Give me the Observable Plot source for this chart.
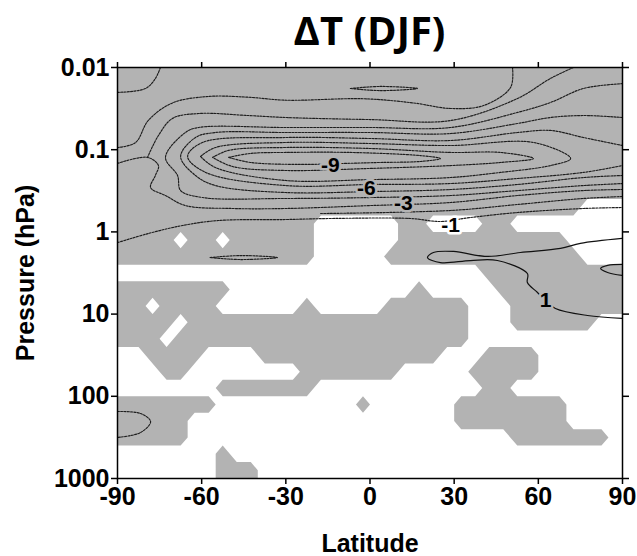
<!DOCTYPE html>
<html><head><meta charset="utf-8">
<script src="https://cdn.jsdelivr.net/npm/d3@7"></script>
<script src="https://cdn.jsdelivr.net/npm/@observablehq/plot@0.6"></script>
<style>
body{margin:0;background:#fff;}
#wrap{position:relative;width:637px;height:556px;overflow:hidden;}
#title{position:absolute;left:117px;width:505px;top:5px;text-align:center;font-family:"Open Sans",sans-serif;font-weight:700;font-size:40px;line-height:50px;color:#000;}
</style></head><body>
<div id="wrap"><div id="chart"></div><div id="title">ΔT (DJF)</div></div>
<script>
// axis ticks
const latTicks = [-90, -60, -30, 0, 30, 60, 90];
const pTicks = [0.01, 0.1, 1, 10, 100, 1000];

// significance mask: 36 latitude bands (5 deg, -90..90) x 25 log-pressure bands (0.2 decade, 0.01 hPa at top)
const sigMask = [
"####################################",
"####################################",
"####################################",
"####################################",
"####################################",
"####################################",
"####################################",
"####################################",
"#################################...",
"##############......##....##........",
"####.##.######......############....",
"##############.....##############...",
"..........................##########",
"########.............#.....#########",
"##.####......#.....######...########",
"####.####################...######..",
"###.#####################...........",
"..####....#############...####......",
"...##........#######.....#####......",
".......#######............##........",
"#######..........#......########....",
"#####...................########....",
"#####.......................#######.",
".......#............................",
".......###.........................."
];

// contour lines as [latitude, pressure hPa]
const cornerNW = [[-74.7,0.01],[-76.5,0.0136],[-80,0.018],[-90,0.0201]];
const lineY = [[-90,0.094],[-83.6,0.082],[-79,0.044],[-70.4,0.027],[-57.6,0.0225],[-43.3,0.023],[-30,0.025],[-2.3,0.024],[15.5,0.027],[28.7,0.0315],[40.5,0.029],[50.1,0.0175],[50.8,0.01]];
const topLoop = [[-7,0.018],[3.7,0.017],[16.9,0.018],[3.7,0.0191],[-7,0.018]];
const t1Upper = [[72.5,0.01],[64.3,0.0136],[52.6,0.0238],[28.7,0.0442],[0.2,0.043],[-30,0.0406],[-43.3,0.0384],[-61.1,0.0363],[-70.4,0.0417],[-75.4,0.0671],[-79.3,0.124]];
const t1Lower = [[-90,0.147],[-79.3,0.124],[-75.4,0.156],[-76.5,0.206],[-78.2,0.289],[-72.9,0.361],[-65.8,0.478],[-49,0.519],[-30,0.519],[0.2,0.478],[28.7,0.439],[52.6,0.361],[76.1,0.314],[90,0.305]];
const t2 = [[90,0.0157],[76.1,0.018],[64.3,0.0267],[52.6,0.0352],[28.7,0.0537],[0.2,0.0537],[-30,0.0537],[-61.1,0.0537],[-65.8,0.0618],[-72.9,0.124],[-68.6,0.206],[-67.5,0.314],[-59.7,0.382],[-30,0.392],[0.2,0.382],[28.7,0.361],[52.6,0.314],[76.1,0.273],[90,0.258]];
const t3 = [[90,0.0406],[76.1,0.0384],[64.3,0.0406],[52.6,0.048],[28.7,0.0636],[0.2,0.0618],[-30,0.0618],[-55.1,0.0618],[-62.2,0.0711],[-67.5,0.121],[-62.2,0.206],[-55.1,0.273],[-30,0.332],[0.2,0.323],[28.7,0.305],[52.6,0.265],[76.1,0.218],[90,0.206]];
const t4 = [[90,0.089],[76.1,0.0711],[64.3,0.0583],[52.6,0.0618],[28.7,0.0773],[0.2,0.0731],[-30,0.0711],[-59.7,0.0817],[-65,0.121],[-58.6,0.189],[-30,0.273],[0.2,0.265],[28.7,0.258],[52.6,0.224],[76.1,0.189],[90,0.156]];
const t5 = [[-60.4,0.121],[-55.1,0.094],[-30,0.0817],[0.2,0.0841],[28.7,0.089],[58.3,0.0817],[71.5,0.128],[64.3,0.156],[46.5,0.189],[28.7,0.218],[0.2,0.231],[-30,0.237],[-55.1,0.165],[-60.4,0.121]];
const t6 = [[-56.1,0.124],[-50.4,0.102],[-30,0.094],[0.2,0.0967],[28.7,0.108],[46.5,0.108],[58.3,0.128],[46.5,0.143],[28.7,0.156],[0.2,0.169],[-30,0.179],[-49,0.16],[-56.1,0.124]];
const t7 = [[-50.4,0.124],[-42.6,0.111],[-30,0.108],[-7,0.108],[18,0.118],[25.1,0.128],[18,0.139],[3.7,0.143],[-9.4,0.147],[-24.8,0.151],[-42.6,0.143],[-50.4,0.124]];
const lineE = [[-17.6,0.598],[28.7,0.549],[52.6,0.464],[76.1,0.392],[90,0.371]];
const minusOne = [[-90,1.35],[-79,1.046],[-66.8,0.836],[-54,0.727],[-30,0.707],[-14.1,0.687],[14.4,0.687],[25.1,0.747],[35.8,0.668],[52.6,0.581],[76.1,0.519],[90,0.505]];
const lowLoop = [[-57,2.05],[-46,1.94],[-33,2.05],[-46,2.17],[-57,2.05]];
const swPolar = [[-90,153],[-81.8,162],[-78.2,203],[-81.8,276],[-90,317]];
const plusOne = [[90,1.2],[75,1.38],[67.9,1.59],[53.6,1.78],[41.9,1.99],[29.8,1.73],[22.6,1.78],[20.5,2.05],[25.1,2.36],[35.8,2.23],[45.4,2.23],[56.1,3.21],[56.1,4.13],[59.7,5.46],[62.6,6.83],[66.1,8.56],[77.5,10.4],[90,11.3]];
const plusOneNE = [[90,2.49],[84.7,2.56],[82.2,2.79],[84.7,3.12],[90,3.39]];

const negativeLines = {cornerNW, lineY, topLoop, t1Upper, t1Lower, t2, t3, t4, t5, t6, t7, lineE, minusOne, lowLoop, swPolar};
const positiveLines = {plusOne, plusOneNE};

// contour labels
const labelText = ["-9", "-6", "-3", "-1", "1"];
const labelLat = [-14.1, -1.3, 11.9, 28.7, 62.6];
const labelP = [0.156, 0.296, 0.452, 0.84, 6.83];

// ---- build (the y axis is drawn in log10(pressure) so that the regular grid is uniform on screen)
const nCols = 36, nRows = sigMask.length;
const maskRows = sigMask.map(r => r.padEnd(nCols, ".").slice(0, nCols));
// pad the grid by one replicated cell on every side so shading reaches the frame edges (outside part is clipped)
const padded = [maskRows[0], ...maskRows, maskRows[nRows - 1]].map(r => r[0] + r + r[nCols - 1]);
const maskValues = padded.flatMap(row => Array.from(row, ch => ch === "#" ? 1 : 0));
const dLat = 180 / nCols, dLp = 5 / nRows;
const flatten = obj => Object.entries(obj).flatMap(([id, pts]) => pts.map(([lat, p]) => ({id, lat, lp: Math.log10(p)})));
const negRows = flatten(negativeLines);
const posRows = flatten(positiveLines);
function shaded(lat, lp) {
  const c = Math.min(nCols - 1, Math.floor((lat + 90) / dLat));
  const r = Math.min(nRows - 1, Math.floor((lp + 2) / dLp));
  return maskRows[r][c] === "#";
}
const labels = labelText.map((t, i) => ({text: t, lat: labelLat[i], lp: Math.log10(labelP[i])}));
const GRAY = "#b3b3b3";
const FONT = "'Liberation Sans', Arial, Helvetica, sans-serif";
const lpTicks = pTicks.map(Math.log10);

const chart = Plot.plot({
  width: 637, height: 556,
  marginLeft: 117, marginRight: 15, marginTop: 67, marginBottom: 78,
  x: {domain: [-90, 90]},
  y: {domain: [-2, 3], reverse: true},
  style: {fontFamily: FONT, fontSize: "25px", fontWeight: "bold", color: "#000", background: "#fff", overflow: "visible"},
  marks: [
    Plot.contour(maskValues, {width: nCols + 2, height: nRows + 2, x1: -90 - dLat, x2: 90 + dLat, y1: -2 - dLp, y2: 3 + dLp, value: d => d, thresholds: [0.5], fill: GRAY, stroke: "none", clip: true}),
    Plot.line(negRows, {x: "lat", y: "lp", z: "id", curve: "catmull-rom", stroke: "#1e1e1e", strokeWidth: 1.15, strokeDasharray: "2,1.3", clip: true}),
    Plot.line(posRows, {x: "lat", y: "lp", z: "id", curve: "catmull-rom", stroke: "#111", strokeWidth: 1.2, clip: true}),
    Plot.text(labels, {x: "lat", y: "lp", text: "text", fontSize: 21, fontWeight: "bold", fill: "#000", stroke: d => shaded(d.lat, d.lp) ? GRAY : "#fff", strokeWidth: 5, paintOrder: "stroke"}),
    Plot.frame({stroke: "#000", strokeWidth: 1.5}),
    Plot.axisX({ticks: latTicks, anchor: "bottom", tickSize: 6, tickPadding: 3, strokeWidth: 1.5, tickFormat: d => String(d), label: null}),
    Plot.axisX({ticks: latTicks, anchor: "top", tickSize: 6, strokeWidth: 1.5, tickFormat: () => "", label: null}),
    Plot.axisY({ticks: lpTicks, anchor: "left", tickSize: 6, tickPadding: 2, strokeWidth: 1.5, tickFormat: t => String(pTicks[lpTicks.indexOf(t)]), label: null}),
    Plot.axisY({ticks: lpTicks, anchor: "right", tickSize: 6, strokeWidth: 1.5, tickFormat: () => "", label: null}),
    Plot.text(["Pressure (hPa)"], {frameAnchor: "left", dx: -92, rotate: -90, textAnchor: "middle", text: d => d, fontSize: 25, fontWeight: "bold"}),
    Plot.text(["Latitude"], {frameAnchor: "bottom", dy: 65, lineAnchor: "middle", text: d => d, fontSize: 25, fontWeight: "bold"})
  ]
});
document.getElementById("chart").appendChild(chart);
</script></body></html>
